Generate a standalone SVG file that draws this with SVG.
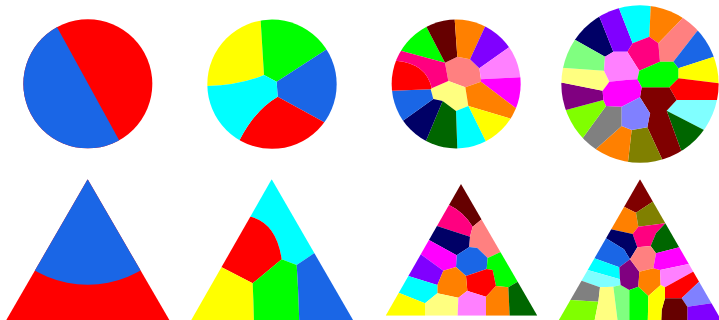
<svg xmlns="http://www.w3.org/2000/svg" width="719" height="320" viewBox="0 0 719 320">
<style>
.bl{fill:#1a66e6}.rd{fill:#ff0000}.ye{fill:#ffff00}.cy{fill:#00ffff}.gr{fill:#00ff00}
.mr{fill:#660000}.m8{fill:#800000}.nv{fill:#000066}.dg{fill:#006600}.or{fill:#ff8000}
.pu{fill:#8000ff}.lp{fill:#ff80ff}.mg{fill:#ff00ff}.dp{fill:#ff0080}.sa{fill:#ff8080}
.ly{fill:#ffff80}.ol{fill:#808000}.gy{fill:#808080}.ch{fill:#80ff00}.lg{fill:#80ff80}
.p2{fill:#800080}.lv{fill:#8080ff}.lc{fill:#80ffff}
</style>
<defs>
<clipPath id="cp1"><circle cx="263.5" cy="251.5" r="193.5"/></clipPath>
<clipPath id="cp2"><circle cx="276" cy="252.5" r="194"/></clipPath>
<clipPath id="cp3"><circle cx="228.5" cy="252" r="193.5"/></clipPath>
<clipPath id="cp4"><circle cx="270" cy="252" r="236"/></clipPath>
<clipPath id="ct1"><polygon points="263,28 16,455 511,455"/></clipPath>
<clipPath id="ct2"><polygon points="275,28 31,455 522,455"/></clipPath>
<clipPath id="ct3"><polygon points="243,42 17,437 472,437"/></clipPath>
<clipPath id="ct4"><polygon points="270,28 22,458 518,458"/></clipPath>
</defs>

<g id="circle1" transform="translate(0,0) scale(0.333333)">
<g clip-path="url(#cp1)">
<rect class="rd" x="0" y="0" width="540" height="480"/>
<path class="bl" d="M79.5,-85.5 L449.5,588.5 L-100,588.5 L-100,-85.5 Z"/>
</g>
</g>

<g id="circle2" transform="translate(180,0) scale(0.333333)">
<g clip-path="url(#cp2)">
<path class="ye" d="M252,225 L242,62 L221.6,-52.3 L-34.4,261.3 L82,258 Q180,255 252,225 Z"/>
<path class="gr" d="M252,225 L242,62 L221.6,-52.3 L533.6,88.5 L437,150 L290,245 Z"/>
<path class="bl" d="M290,245 L437,150 L533.6,88.5 L522.4,432.5 L430,365 L293,290 Z"/>
<path class="rd" d="M293,290 L430,365 L522.4,432.5 L122.4,517.3 L180,418 Q225,330 293,290 Z"/>
<path class="cy" d="M82,258 Q180,255 252,225 L290,245 L293,290 Q225,330 180,418 L122.4,517.3 L-34.4,261.3 Z"/>
</g>
</g>

<g id="circle3" transform="translate(380,0) scale(0.333333)">
<g clip-path="url(#cp3)">
<path class="sa" d="M195,188 L232,170 L270,178 L298,205 L303,238 L303,245 L256,262 L205,243 Z"/>
<path class="ly" d="M155,265 L205,243 L256,262 L265,318 L228,333 L188,303 L160,297 L152,268 Z"/>
<path class="gr" d="M195,188 L62,152 L12,122 L110.8,25.8 L138,78 Z"/>
<path class="mr" d="M195,188 L138,78 L110.8,25.8 L222.6,-0.2 L224,58 L232,170 Z"/>
<path class="or" d="M232,170 L224,58 L222.6,-0.2 L341,28.4 L315,80 L270,178 Z"/>
<path class="pu" d="M270,178 L315,80 L341,28.4 L432,110.3 L385,143 L298,205 Z"/>
<path class="lp" d="M298,205 L385,143 L432,110.3 L477.5,226 L420,232 L303,238 Z"/>
<path class="mg" d="M303,238 L420,232 L477.5,226 L461.9,346.9 L408,325 L303,245 Z"/>
<path class="or" d="M256,262 L303,245 L408,325 L461.9,346.9 L435.9,385.9 L388,355 L265,318 Z"/>
<path class="ye" d="M265,318 L388,355 L435.9,385.9 L344.9,476.9 L318,425 Z"/>
<path class="cy" d="M228,333 L265,318 L318,425 L344.9,476.9 L233.1,505.5 L232,447 Z"/>
<path class="dg" d="M188,303 L228,333 L232,447 L233.1,505.5 L113.5,467.8 L140,418 Z"/>
<path class="nv" d="M160,297 L188,303 L140,418 L113.5,467.8 L25,392.4 L72,360 Z"/>
<path class="bl" d="M152,268 L160,297 L72,360 L25,392.4 L-20.5,278 L37,272 Z"/>
<path class="rd" d="M37,272 L152,268 L155,265 Q140,190 48,182 L-6.2,161 L-20.5,278 Z"/>
<path class="dp" d="M48,182 Q140,190 155,265 L205,243 L195,188 L62,152 L12,122 L-6.2,161 Z"/>
</g>
</g>

<g id="circle4" transform="translate(550,0) scale(0.333333)">
<g clip-path="url(#cp4)">
<path class="nv" d="M72,118 L12.6,77.8 L114,-4.1 L150,55 L190,155 L165,170 Z"/>
<path class="pu" d="M150,55 L114,-4.1 L189.4,-39.2 L208,28 L248,130 L232,155 L190,155 Z"/>
<path class="cy" d="M208,28 L189.4,-39.2 L311.6,-49.6 L302,20 L298,110 L248,130 Z"/>
<path class="or" d="M302,20 L311.6,-49.6 L432.5,-0.2 L395,58 L325,130 L298,110 Z"/>
<path class="sa" d="M395,58 L432.5,-0.2 L491,47.9 L440,95 L370,185 L330,185 L325,130 Z"/>
<path class="bl" d="M440,95 L491,47.9 L558.6,145.4 L492,170 L385,205 L370,185 Z"/>
<path class="ye" d="M492,170 L558.6,145.4 L578.1,249.4 L507,250 L385,235 L385,205 Z"/>
<path class="rd" d="M507,250 L578.1,249.4 L578.1,314.4 L507,300 L380,300 L358,262 L385,235 Z"/>
<path class="lc" d="M507,300 L578.1,314.4 L519.6,431.4 L462,390 L350,332 L380,300 Z"/>
<path class="dg" d="M462,390 L519.6,431.4 L428.6,506.8 L392,448 L350,332 Z"/>
<path class="m8" d="M275,262 L358,262 L380,300 L350,332 L392,448 L428.6,506.8 L354.5,541.9 L335,475 L292,382 L300,340 L270,292 Z"/>
<path class="ol" d="M245,390 L292,382 L335,475 L354.5,541.9 L224.5,545.8 L235,478 Z"/>
<path class="or" d="M215,378 L245,390 L235,478 L224.5,545.8 L101,502.9 L140,445 Z"/>
<path class="gy" d="M168,318 L215,320 L215,378 L140,445 L101,502.9 L49,460 L100,412 Z"/>
<path class="ch" d="M160,300 L168,318 L100,412 L49,460 L-18.6,353.4 L48,330 Z"/>
<path class="p2" d="M158,272 L160,300 L48,330 L-18.6,353.4 L-31.6,246.8 L38,248 Z"/>
<path class="ly" d="M162,212 L178,245 L158,272 L38,248 L-31.6,246.8 L-35.5,188.3 L35,203 Z"/>
<path class="lg" d="M165,170 L162,212 L35,203 L-35.5,188.3 L12.6,77.8 L72,118 Z"/>
<path class="dp" d="M232,155 L248,130 L298,110 L325,130 L330,185 L268,212 Z"/>
<path class="lp" d="M165,170 L190,155 L232,155 L268,212 L262,238 L228,240 L178,245 L162,212 Z"/>
<path class="gr" d="M268,212 L330,185 L370,185 L385,205 L385,235 L358,262 L275,262 L262,238 Z"/>
<path class="mg" d="M178,245 L228,240 L262,238 L275,262 L270,292 L215,320 L168,318 L160,300 L158,272 Z"/>
<path class="lv" d="M215,320 L270,292 L300,340 L292,382 L245,390 L215,378 Z"/>
</g>
</g>

<g id="triangle1" transform="translate(0,170) scale(0.333333)">
<g clip-path="url(#ct1)">
<rect class="rd" x="0" y="0" width="540" height="470"/>
<circle class="bl" cx="263" cy="28" r="316"/>
</g>
</g>

<g id="triangle2" transform="translate(180,170) scale(0.333333)">
<g clip-path="url(#ct2)">
<path class="cy" d="M212,140 Q290,160 305,268 L350,285 L402,250 L600,250 L600,-10 L-50,-10 L-50,140 Z"/>
<path class="rd" d="M212,140 Q290,160 305,268 L218,340 L125,292 L-50,292 L-50,140 Z"/>
<path class="ye" d="M125,292 L218,340 Q221,400 222,470 L-50,470 L-50,292 Z"/>
<path class="gr" d="M218,340 L305,268 L350,285 Q356,370 358,470 L222,470 Q221,400 218,340 Z"/>
<path class="bl" d="M350,285 L402,250 L600,250 L600,470 L358,470 Q356,370 350,285 Z"/>
</g>
</g>

<g id="triangle3" transform="translate(380,170) scale(0.333333)">
<g clip-path="url(#ct3)">
<path class="mr" d="M207,105 Q250,125 278,170 L305,148 L550,148 L550,-10 L-50,-10 L-50,105 Z"/>
<path class="dp" d="M171,168 L270,200 L278,170 Q250,125 207,105 L-50,105 L-50,168 Z"/>
<path class="nv" d="M147,210 L230,256 L268,231 L270,200 L171,168 L-50,168 L-50,210 Z"/>
<path class="sa" d="M278,170 L270,200 L268,231 L292,234 L323,264 L360,247 L550,247 L550,148 L305,148 Z"/>
<path class="bl" d="M230,256 L268,231 L292,234 L323,264 L320,297 L258,318 L228,291 Z"/>
<path class="mg" d="M122,253 L190,302 L228,291 L230,256 L147,210 L-50,210 L-50,253 Z"/>
<path class="pu" d="M85,318 L172,345 L190,302 L122,253 L-50,253 L-50,318 Z"/>
<path class="gr" d="M360,247 L323,264 L320,297 L338,300 L348,348 L385,352 L413,335 L550,335 L550,247 Z"/>
<path class="rd" d="M258,318 L320,297 L338,300 L348,348 L318,380 L270,365 L262,362 Z"/>
<path class="or" d="M172,345 L190,302 L228,291 L258,318 L262,362 L235,383 L172,370 Z"/>
<path class="cy" d="M56,368 L135,400 L172,370 L172,345 L85,318 L-50,318 L-50,368 Z"/>
<path class="ye" d="M56,368 L135,400 L135,460 L-50,460 L-50,368 Z"/>
<path class="ly" d="M135,400 L172,370 L235,383 L232,460 L135,460 Z"/>
<path class="lp" d="M235,383 L262,362 L270,365 L318,380 L318,460 L232,460 Z"/>
<path class="or" d="M318,380 L348,348 L385,352 L390,460 L318,460 Z"/>
<path class="dg" d="M385,352 L413,335 L550,335 L550,460 L390,460 Z"/>
</g>
</g>

<g id="triangle4" transform="translate(550,170) scale(0.333333)">
<g clip-path="url(#ct4)">
<path class="m8" d="M222,110 L258,128 L308,95 L560,95 L560,-10 L-50,-10 L-50,110 Z"/>
<path class="or" d="M183,178 L248,192 L265,170 L258,128 L222,110 L-50,110 L-50,178 Z"/>
<path class="ol" d="M258,128 L308,95 L560,95 L560,160 L346,160 L265,170 Z"/>
<path class="dp" d="M248,192 L265,170 L346,160 L318,190 L302,228 L262,232 Z"/>
<path class="dg" d="M346,160 L560,160 L560,232 L388,232 L318,250 L302,228 L318,190 Z"/>
<path class="nv" d="M168,205 L222,238 L240,268 L262,232 L248,192 L183,178 L-50,178 L-50,205 Z"/>
<path class="bl" d="M133,265 L208,292 L240,268 L222,238 L168,205 L-50,205 L-50,265 Z"/>
<path class="cy" d="M113,300 L210,328 L208,292 L133,265 L-50,265 L-50,300 Z"/>
<path class="lc" d="M95,332 L150,352 L190,350 L212,345 L210,328 L113,300 L-50,300 L-50,332 Z"/>
<path class="gy" d="M62,390 L145,395 L150,352 L95,332 L-50,332 L-50,390 Z"/>
<path class="ch" d="M-50,390 L62,390 L145,395 L130,470 L-50,470 Z"/>
<path class="ly" d="M145,395 L150,352 L190,350 L205,470 L130,470 Z"/>
<path class="lg" d="M190,350 L212,345 L238,360 L238,470 L205,470 Z"/>
<path class="p2" d="M208,292 L240,268 L268,305 L265,350 L238,360 L212,345 L210,328 Z"/>
<path class="sa" d="M240,268 L262,232 L302,228 L318,250 L310,295 L268,305 Z"/>
<path class="or" d="M268,305 L310,295 L330,300 L332,345 L295,378 L265,350 Z"/>
<path class="gr" d="M238,360 L265,350 L295,378 L293,470 L238,470 Z"/>
<path class="mg" d="M318,250 L388,232 L560,232 L560,282 L416,282 L330,300 L310,295 Z"/>
<path class="lp" d="M330,300 L416,282 L560,282 L560,305 L429,305 L345,352 L332,345 Z"/>
<path class="rd" d="M345,352 L429,305 L560,305 L560,335 L447,335 L395,385 L345,385 Z"/>
<path class="lv" d="M395,385 L447,335 L560,335 L560,400 L484,400 L412,410 Z"/>
<path class="pu" d="M412,410 L484,400 L560,400 L560,470 L412,470 Z"/>
<path class="mr" d="M345,385 L395,385 L412,410 L412,470 L333,470 L335,420 Z"/>
<path class="ye" d="M295,378 L332,345 L345,352 L345,385 L335,420 L333,470 L293,470 Z"/>
</g>
</g>
</svg>
